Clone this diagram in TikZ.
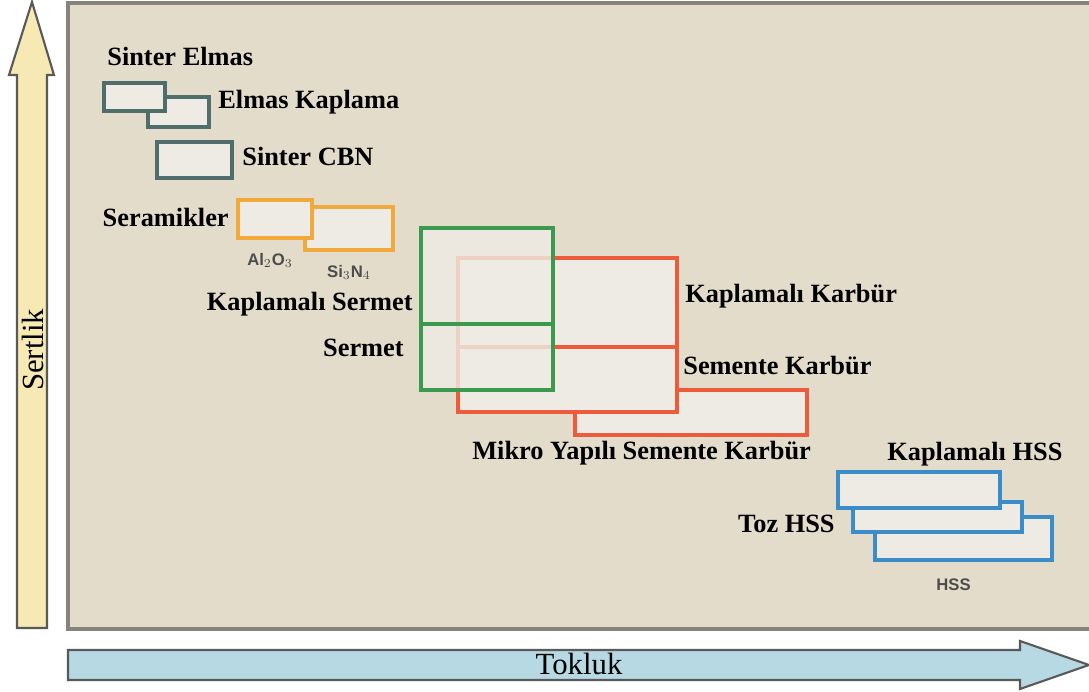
\documentclass[tikz,border=0pt]{standalone}
\usepackage{fontspec}
\setmainfont{Liberation Serif}
\newfontfamily\smallsans{Liberation Sans}
\usepackage{xcolor}
\usepackage{tikz}
\usetikzlibrary{positioning,calc}
\definecolor{panelc}{HTML}{E4DCCB}
\definecolor{panelb}{HTML}{86837A}
\definecolor{boxfill}{HTML}{EEEAE4}
\definecolor{elmasc}{HTML}{4F6E6B}
\definecolor{seramc}{HTML}{F2A93B}
\definecolor{sermetc}{HTML}{3C9A4E}
\definecolor{karburc}{HTML}{EE5A3C}
\definecolor{hssc}{HTML}{3B8CC9}
\definecolor{yelarrow}{HTML}{F6E9B4}
\definecolor{bluarrow}{HTML}{B7D9E3}
\tikzstyle{tbox} = [rectangle, fill=boxfill, line width=1.8pt, inner sep=0pt]
\tikzstyle{lbl} = [inner sep=0pt, font=\fontsize{15}{18}\selectfont\bfseries]
\tikzstyle{chem} = [inner sep=0pt, text=black!70, font=\smallsans\fontsize{9.5}{11}\selectfont\bfseries]
\tikzstyle{axis} = [inner sep=0pt, font=\fontsize{17.5}{20}\selectfont]

\begin{document}
\begin{tikzpicture}[scale=1.0]
    \useasboundingbox (0,0) rectangle (21.78,13.84);
    \fill[white] (0,0) rectangle (21.78,13.84);

    % panel
    \draw[fill=panelc, draw=panelb, line width=2pt] (1.36,1.26) rectangle (22.2,13.78);

    % axes
    \draw[fill=yelarrow, draw=black!65, line width=1.2pt]
        (0.34,1.28) -- (0.94,1.28) -- (0.94,12.34) -- (1.08,12.34) -- (0.64,13.80)
        -- (0.18,12.34) -- (0.34,12.34) -- cycle;
    \node[axis, rotate=90, anchor=base] (hard) at (0.86,6.84) {Sertlik};
    \draw[fill=bluarrow, draw=black!65, line width=1.2pt]
        (1.36,0.24) -- (20.40,0.24) -- (20.40,0.06) -- (21.78,0.54) -- (20.40,1.02)
        -- (20.40,0.84) -- (1.36,0.84) -- cycle;
    \node[axis, anchor=base] (tough) at (11.58,0.34) {Tokluk};

    % elmas, cbn
    \node[tbox, draw=elmasc, minimum width=1.22cm, minimum height=0.60cm] (ek) at (3.57,11.60) {};
    \node[tbox, draw=elmasc, minimum width=1.22cm, minimum height=0.56cm] (se) at (2.69,11.90) {};
    \node[tbox, draw=elmasc, minimum width=1.50cm, minimum height=0.72cm] (cbn) at (3.89,10.64) {};
    \node[lbl, anchor=base west] (seL) at (2.14,12.52) {Sinter Elmas};
    \node[lbl, anchor=base west] (ekL) at (4.36,11.66) {Elmas Kaplama};
    \node[lbl, anchor=base west] (cbnL) at (4.84,10.52) {Sinter CBN};

    % seramikler
    \node[tbox, draw=seramc, line width=2.2pt, minimum width=1.76cm, minimum height=0.86cm] (si) at (6.98,9.27) {};
    \node[tbox, draw=seramc, line width=2.2pt, minimum width=1.48cm, minimum height=0.76cm] (al) at (5.50,9.46) {};
    \node[lbl, anchor=base east] (serL) at (4.58,9.30) {Seramikler};
    \node[chem, below=0.26cm of al, xshift=-0.1cm] (alL) {Al$_2$O$_3$};
    \node[chem, below=0.26cm of si] (siL) {Si$_3$N$_4$};

    % karbur
    \node[tbox, draw=karburc, minimum width=4.64cm, minimum height=0.90cm] (mk) at (13.82,5.59) {};
    \node[tbox, draw=karburc, minimum width=4.38cm, minimum height=1.30cm] (sk) at (11.35,6.25) {};
    \node[tbox, draw=karburc, minimum width=4.38cm, minimum height=1.78cm] (kk) at (11.35,7.79) {};

    % sermet
    \node[tbox, draw=sermetc, fill opacity=0.82, minimum width=2.64cm, minimum height=1.32cm] (sm) at (9.74,6.70) {};
    \node[tbox, draw=sermetc, fill opacity=0.82, minimum width=2.64cm, minimum height=1.92cm] (ks) at (9.74,8.32) {};
    \node[lbl, anchor=base east] (ksL) at (8.26,7.62) {Kaplamalı Sermet};
    \node[lbl, anchor=base east] (smL) at (8.08,6.70) {Sermet};
    \node[lbl, anchor=base west] (kkL) at (13.70,7.78) {Kaplamalı Karbür};
    \node[lbl, anchor=base west] (skL) at (13.66,6.34) {Semente Karbür};
    \node[lbl, anchor=base west] (mkL) at (9.44,4.64) {Mikro Yapılı Semente Karbür};

    % hss
    \node[tbox, draw=hssc, minimum width=3.54cm, minimum height=0.86cm] (hss) at (19.27,3.07) {};
    \node[tbox, draw=hssc, minimum width=3.38cm, minimum height=0.60cm] (thss) at (18.75,3.50) {};
    \node[tbox, draw=hssc, minimum width=3.24cm, minimum height=0.72cm] (khss) at (18.38,4.04) {};
    \node[lbl, anchor=base west] (khssL) at (17.74,4.62) {Kaplamalı HSS};
    \node[lbl, anchor=base east] (thssL) at (16.70,3.18) {Toz HSS};
    \node[chem, below=0.34cm of hss, xshift=-0.2cm] (hssL) {HSS};
\end{tikzpicture}
\end{document}
